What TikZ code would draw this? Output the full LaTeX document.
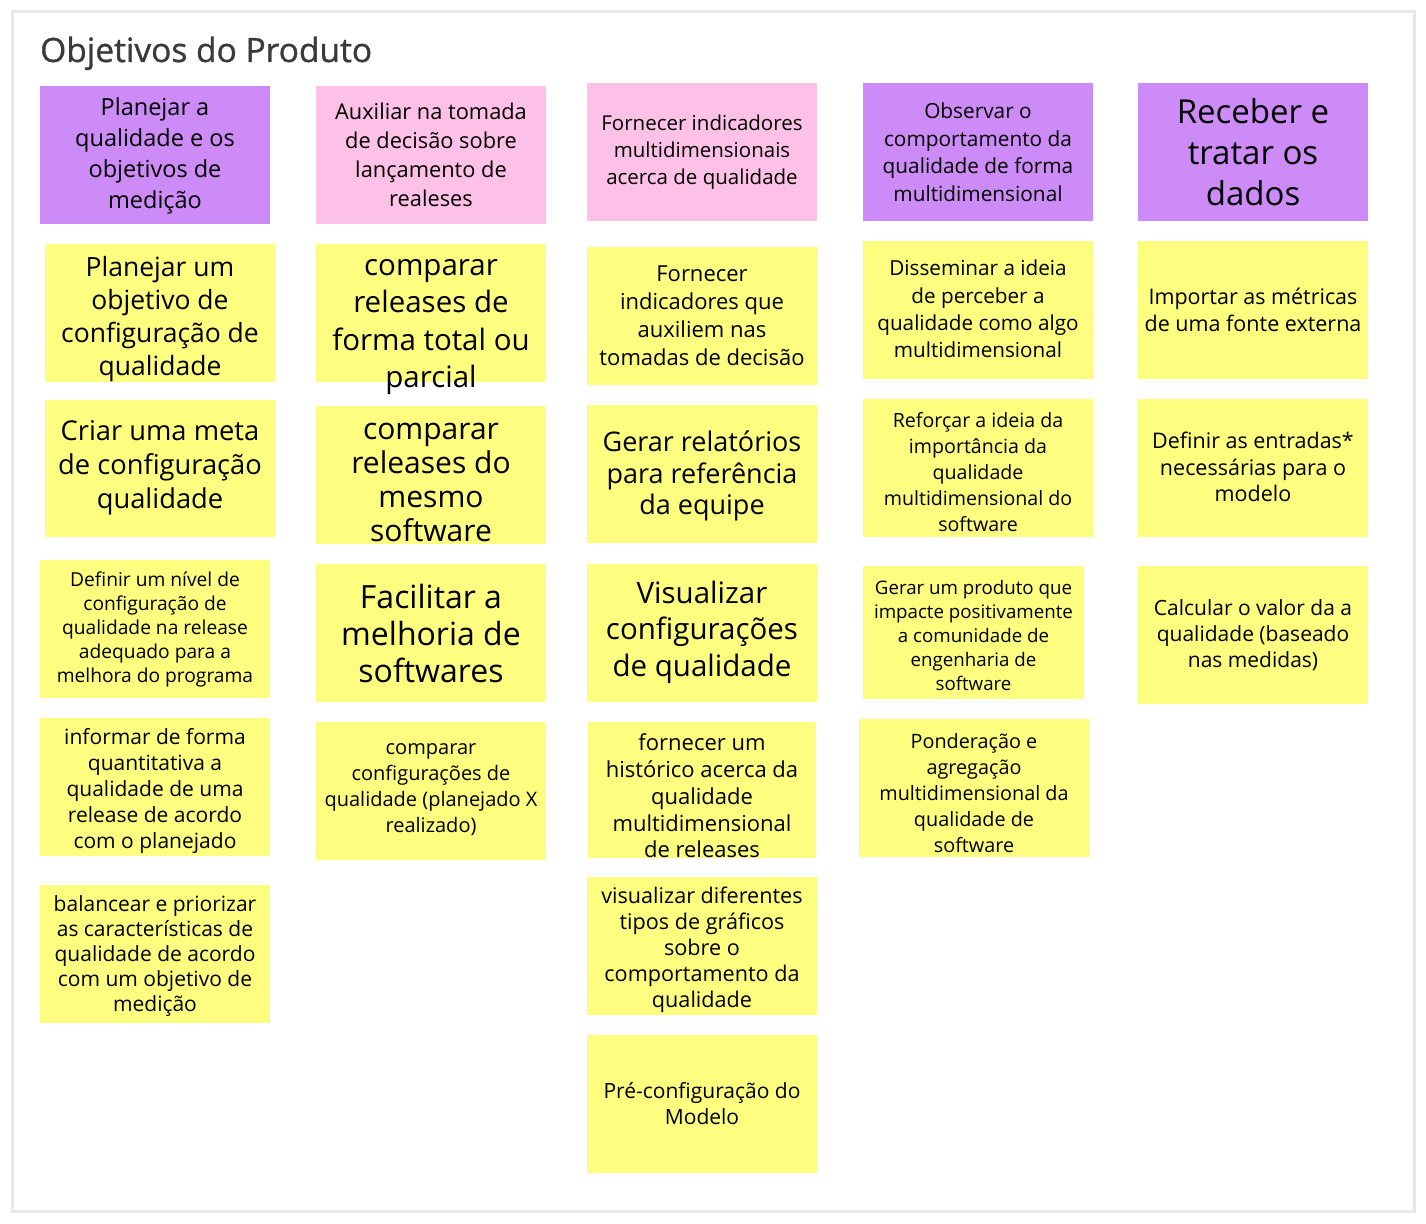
\documentclass[tikz,border=0pt]{standalone}
\usepackage{fontspec}
\setmainfont{Open Sans}
\definecolor{frame}{HTML}{E8E8E8}
\definecolor{titlec}{HTML}{3A3A3A}
\definecolor{purp}{HTML}{CC8BF7}
\definecolor{pinkc}{HTML}{FDC0E6}
\definecolor{yel}{HTML}{FDFD80}
\newcommand{\stk}[9]{%
  \node[#2, minimum width=#5pt, minimum height=#6pt, anchor=north west] (#1) at (#3pt,-#4pt) {};
  \node[txt, font=#8] (#1t) at ({#3pt+0.5*#5pt},{-#7pt}) {#9};}
\newcommand{\fs}[2]{\fontsize{#1}{#2}\selectfont}
\begin{document}
\begin{tikzpicture}[
  hp/.style={fill=purp, draw=none, inner sep=0pt},
  hk/.style={fill=pinkc, draw=none, inner sep=0pt},
  ny/.style={fill=yel, draw=none, inner sep=0pt},
  txt/.style={align=center, inner sep=0pt, text=black}]
\useasboundingbox (0,0) rectangle (1426pt,-1223pt);
\fill[white] (0,0) rectangle (1426pt,-1223pt);
\draw[frame, line width=3pt] (12pt,-12pt) rectangle (1414pt,-1211pt);
\node[anchor=base west, inner sep=0pt, text=titlec, font=\fs{33.5}{40}\addfontfeatures{FakeBold=1}] (title) at (40pt,-62pt) {Objetivos do Produto};
% headers
\stk{h1}{hp}{40}{86}{230}{138}{156}{\fs{23.5}{31}}{Planejar a\\qualidade e os\\objetivos de\\medição}
\stk{h2}{hk}{316}{86}{230}{138}{155}{\fs{21.8}{29}}{Auxiliar na tomada\\de decisão sobre\\lançamento de\\realeses}
\stk{h3}{hk}{587}{83}{230}{138}{152}{\fs{20.5}{27}}{Fornecer indicadores\\multidimensionais\\acerca de qualidade}
\stk{h4}{hp}{863}{83}{230}{138}{152}{\fs{20.8}{27.5}}{Observar o\\comportamento da\\qualidade de forma\\multidimensional}
\stk{h5}{hp}{1138}{83}{230}{138}{152}{\fs{33}{41}}{Receber e\\tratar os\\dados}
% column 1
\stk{a1}{ny}{45}{244}{230}{138}{319}{\fs{26.5}{33}}{Planejar um\\objetivo de\\configuração de\\qualidade}
\stk{a2}{ny}{45}{400}{230}{137}{468}{\fs{27.3}{34}}{Criar uma meta\\de configuração\\qualidade}
\stk{a3}{ny}{40}{560}{230}{138}{629}{\fs{19.2}{24}}{Definir um nível de\\configuração de\\qualidade na release\\adequado para a\\melhora do programa}
\stk{a4}{ny}{40}{718}{230}{138}{791}{\fs{21}{26}}{informar de forma\\quantitativa a\\qualidade de uma\\release de acordo\\com o planejado}
\stk{a5}{ny}{40}{885}{230}{138}{956}{\fs{21}{25}}{balancear e priorizar\\as características de\\qualidade de acordo\\com um objetivo de\\medição}
% column 2
\stk{b1}{ny}{316}{244}{230}{138}{327}{\fs{29.5}{37.5}}{comparar\\releases de\\forma total ou\\parcial}
\stk{b2}{ny}{316}{406}{230}{138}{482}{\fs{30}{34}}{comparar\\releases do\\mesmo\\software}
\stk{b3}{ny}{316}{564}{230}{138}{633}{\fs{32}{37}}{Facilitar a\\melhoria de\\softwares}
\stk{b4}{ny}{316}{722}{230}{138}{790}{\fs{20}{26}}{comparar\\configurações de\\qualidade (planejado X\\realizado)}
% column 3
\stk{c1}{ny}{587}{247}{230}{138}{316}{\fs{22}{28}}{Fornecer\\indicadores que\\auxiliem nas\\tomadas de decisão}
\stk{c2}{ny}{587}{405}{230}{138}{476}{\fs{27}{31.5}}{Gerar relatórios\\para referência\\da equipe}
\stk{c3}{ny}{587}{564}{230}{138}{632}{\fs{29.5}{36.5}}{Visualizar\\configurações\\de qualidade}
\stk{c4}{ny}{588}{722}{228}{136}{796}{\fs{22}{26.8}}{fornecer um\\histórico acerca da\\qualidade\\multidimensional\\de releases}
\stk{c5}{ny}{587}{877}{230}{138}{950}{\fs{21.6}{26}}{visualizar diferentes\\tipos de gráficos\\sobre o\\comportamento da\\qualidade}
\stk{c6}{ny}{587}{1035}{230}{138}{1104}{\fs{21}{26}}{Pré-configuração do\\Modelo}
% column 4
\stk{d1}{ny}{863}{241}{230}{138}{309}{\fs{20.7}{27.3}}{Disseminar a ideia\\de perceber a\\qualidade como algo\\multidimensional}
\stk{d2}{ny}{863}{399}{230}{138}{472}{\fs{19.6}{26}}{Reforçar a ideia da\\importância da\\qualidade\\multidimensional do\\software}
\stk{d3}{ny}{863}{566}{221}{133}{635}{\fs{18.7}{24}}{Gerar um produto que\\impacte positivamente\\a comunidade de\\engenharia de\\software}
\stk{d4}{ny}{859}{719}{230}{138}{793}{\fs{19.8}{26}}{Ponderação e\\agregação\\multidimensional da\\qualidade de\\software}
% column 5
\stk{e1}{ny}{1138}{241}{230}{138}{310}{\fs{21.5}{26.5}}{Importar as métricas\\de uma fonte externa}
\stk{e2}{ny}{1138}{399}{230}{138}{467}{\fs{21.5}{26.5}}{Definir as entradas*\\necessárias para o\\modelo}
\stk{e3}{ny}{1138}{566}{230}{138}{635}{\fs{21}{26}}{Calcular o valor da a\\qualidade (baseado\\nas medidas)}
\end{tikzpicture}
\end{document}
